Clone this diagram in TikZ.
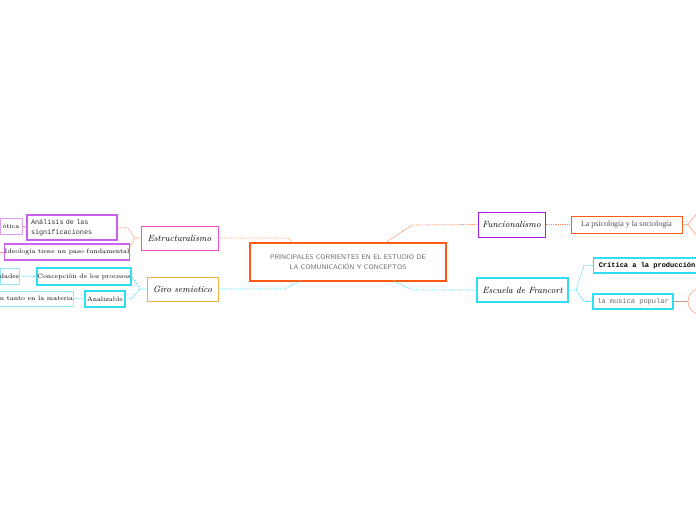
\documentclass[tikz,border=0pt]{standalone}
\usepackage{fontspec}
\setmonofont{Liberation Mono}
\newfontfamily\lserif{Liberation Serif}
\usetikzlibrary{shadows}
\definecolor{corange}{HTML}{FF5A14}
\definecolor{lorange}{HTML}{FF8A5C}
\definecolor{pale}{HTML}{FFB394}
\definecolor{cmagenta}{HTML}{F050D8}
\definecolor{cpurple}{HTML}{A81CE0}
\definecolor{lpurple}{HTML}{C860F0}
\definecolor{ppurple}{HTML}{DDA0F0}
\definecolor{ccyan}{HTML}{30DDF2}
\definecolor{lcyan}{HTML}{90EAF8}
\definecolor{cgold}{HTML}{F2B040}
\definecolor{brownish}{HTML}{C49A84}
\definecolor{txtgray}{HTML}{6A6A6A}
\definecolor{darktext}{HTML}{333333}
\tikzset{
  box/.style={draw, fill=white, inner sep=0pt, line width=1pt, align=center,
    drop shadow={shadow xshift=0.6pt, shadow yshift=-1.2pt, opacity=0.25, fill=black}},
  flat/.style={draw, fill=white, inner sep=0pt, line width=0.8pt, align=center},
  hand/.style={font=\itshape\fontsize{9}{10}\selectfont},
  small/.style={font=\fontsize{6.4}{8}\selectfont},
  orconn/.style={draw=lorange, densely dotted, line width=0.8pt},
  cyconn/.style={draw=ccyan, densely dotted, line width=0.8pt},
  orsolid/.style={draw=pale, line width=0.8pt},
  cysolid/.style={draw=lcyan, line width=0.8pt}
}
\begin{document}
\begin{tikzpicture}[x=1pt,y=-1pt]
\useasboundingbox (0,0) rectangle (696,520);

% central
\node[box, draw=corange, line width=1.3pt, minimum width=196, minimum height=38,
  font=\sffamily\fontsize{6.7}{10}\selectfont, text=txtgray] (central) at (348,262)
  {PRINCIPALES CORRIENTES EN EL ESTUDIO DE\\LA COMUNICACIÓN Y CONCEPTOS};

% main topics
\node[box, draw=cmagenta, minimum width=77, minimum height=24, hand] (estr) at (179.5,238) {Estructuralismo};
\node[box, draw=cpurple, minimum width=67, minimum height=25, hand] (func) at (511.5,224.5) {Funcionalismo};
\node[box, draw=ccyan, line width=1.3pt, minimum width=91, minimum height=24, hand] (escuela) at (522.5,290) {Escuela de Francort};
\node[box, draw=cgold, minimum width=71, minimum height=24, hand] (giro) at (182.5,289) {Giro semiotico};

% Estructuralismo children
\node[box, draw=lpurple, line width=1.1pt, minimum height=25, text width=82pt, inner xsep=4pt, align=left,
  font=\ttfamily\fontsize{6.8}{9.5}\selectfont, text=darktext] (analisis) at (72,227.5)
  {Análisis de las\\significaciones};
\node[box, draw=lpurple, line width=1.2pt, minimum width=122, minimum height=16, small] (ideo) at (67,252)
  {Ideología tiene un paso fundamental};
\node[flat, draw=ppurple, minimum width=22, minimum height=16, small] (otica) at (11,226) {ótica};
\coordinate (offideo) at (0,253);

% Giro children
\node[box, draw=ccyan, line width=1.2pt, minimum width=94, minimum height=17, small] (concep) at (84,276.5)
  {Concepción de los procesos};
\node[box, draw=ccyan, line width=1.2pt, minimum width=40, minimum height=16, small] (analiz) at (105,299) {Analizable};
\node[flat, draw=lcyan, minimum width=19, minimum height=16, small] (dades) at (9.5,276) {dades};
\node[flat, draw=lcyan, minimum width=73, minimum height=15, small] (materia) at (36.5,298.5) {n tanto en la materia};

% Funcionalismo child
\node[box, draw=corange, minimum width=111, minimum height=17,
  font=\lserif\fontsize{7.9}{9}\selectfont, text=black!70] (psico) at (626.5,224.5)
  {La psicología y la sociología};
\coordinate (fork) at (688,224.5);
\coordinate (offa) at (697,213);
\coordinate (offb) at (697,236);

% Escuela children
\node[box, draw=ccyan, line width=1.2pt, minimum width=110, minimum height=15, anchor=west,
  font=\ttfamily\bfseries\fontsize{7}{8}\selectfont] (critica) at (593,265.5)
  {\hspace*{5pt}Crítica a la producción\hspace*{8pt}};
\node[box, draw=ccyan, line width=1.2pt, minimum width=80, minimum height=15,
  font=\ttfamily\fontsize{7}{8}\selectfont, text=txtgray] (musica) at (633,301.5) {la musica popular};
\node[circle, draw=pale, line width=0.8pt, fill=white, minimum size=26, inner sep=0pt] (circ) at (701,301.5) {};

% connectors to central
\draw[orconn] (estr.east) -- (288,238) -- (294,243.5);
\draw[orconn] (384,243.5) -- (412,225) -- (func.west);
\draw[cyconn] (393,280.5) -- (412,290) -- (escuela.west);
\draw[cyconn] (giro.east) -- (285,289) -- (301,280.5);

% Estructuralismo branches
\draw[orconn] (estr.west) -- (135,238) -- (128,228) -- (analisis.east);
\draw[orconn] (135,238) -- (128,251) -- (ideo.east);
\draw[orsolid, draw=lorange] (analisis.west) -- (otica.east);
\draw[orsolid, draw=lorange] (ideo.west) -- (offideo);

% Giro branches
\draw[cyconn] (giro.west) -- (140,289) -- (132,277) -- (concep.east);
\draw[cyconn] (140,289) -- (131,299) -- (analiz.east);
\draw[cysolid] (concep.west) -- (dades.east);
\draw[cysolid] (analiz.west) -- (materia.east);

% Funcionalismo branch
\draw[orconn] (func.east) -- (psico.west);
\draw[orsolid] (psico.east) -- (fork) -- (offa);
\draw[orsolid] (fork) -- (offb);

% Escuela branches
\draw[cyconn] (escuela.east) -- (576,290) -- (584,265.5) -- (critica.west);
\draw[cyconn] (576,290) -- (584,301.5) -- (musica.west);
\draw[draw=brownish, line width=0.8pt] (musica.east) -- (circ.west);
\end{tikzpicture}
\end{document}
